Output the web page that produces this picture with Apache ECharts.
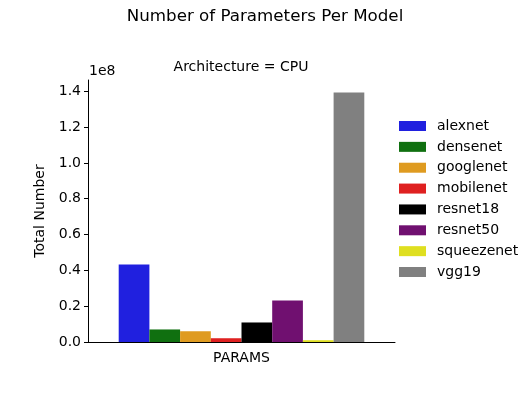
<!doctype html>
<html>
<head>
<meta charset="utf-8">
<script src="https://cdn.jsdelivr.net/npm/echarts@6/dist/echarts.min.js"></script>
<style>
  html, body { margin: 0; padding: 0; background: #fff; }
  #main { width: 530px; height: 400px; }
</style>
</head>
<body>
<div id="main"></div>
<script>
    // data (parameter counts)
    var categories = ['PARAMS'];
    var models = ['alexnet', 'densenet', 'googlenet', 'mobilenet', 'resnet18', 'resnet50', 'squeezenet', 'vgg19'];
    var paramCounts = [43.2e6, 7.0e6, 6.0e6, 2.1e6, 10.9e6, 23.2e6, 1.0e6, 139.3e6];
    var colors = ['#2020df', '#107010', '#df9b20', '#df2020', '#000000', '#701070', '#dfdf20', '#808080'];
    var yTicks = [0, 0.2e8, 0.4e8, 0.6e8, 0.8e8, 1.0e8, 1.2e8, 1.4e8];
    var yMax = 1.4627e8;

    var font = 'DejaVu Sans';
    var myChart = echarts.init(document.getElementById('main'));

    var series = [];
    for (var i = 0; i < models.length; i++) {
        series.push({
            name: models[i],
            type: 'bar',
            data: [paramCounts[i]],
            barGap: '0%',
            barCategoryGap: '20%',
            itemStyle: { color: colors[i] }
        });
    }

    myChart.setOption({
        animation: false,
        color: colors,
        textStyle: { fontFamily: font },
        legend: {
            orient: 'vertical',
            left: 399, top: 119,
            padding: 0,
            itemWidth: 27, itemHeight: 10,
            itemGap: 6.86,
            icon: 'rect',
            data: models,
            textStyle: { fontFamily: font, fontSize: 14, lineHeight: 14, color: '#000', padding: [0, 0, 0, 6] }
        },
        // titles and the 1e8 offset text
        graphic: [{
            type: 'text',
            x: 265, y: 8,
            style: { text: 'Number of Parameters Per Model', font: '16.7px "DejaVu Sans"', fill: '#000', textAlign: 'center' }
        }, {
            type: 'text',
            x: 241, y: 60,
            style: { text: 'Architecture = CPU', font: '14px "DejaVu Sans"', fill: '#000', textAlign: 'center' }
        }, {
            type: 'text',
            x: 89, y: 64,
            style: { text: '1e8', font: '14px "DejaVu Sans"', fill: '#000' }
        }],
        grid: { left: 88, right: 135, top: 80, bottom: 58, containLabel: false },
        xAxis: {
            type: 'category',
            data: categories,
            axisLine: { lineStyle: { color: '#000', width: 1 } },
            axisTick: { alignWithLabel: true, length: 4, lineStyle: { color: '#000' } },
            axisLabel: { color: '#000', fontSize: 14, fontFamily: font, margin: 9 }
        },
        yAxis: {
            type: 'value',
            min: 0, max: yMax,
            name: 'Total Number',
            nameLocation: 'middle',
            nameGap: 31,
            nameTextStyle: { fontFamily: font, fontSize: 14, color: '#000' },
            splitLine: { show: false },
            axisLine: { show: true, lineStyle: { color: '#000', width: 1 } },
            axisTick: { show: true, length: 4, customValues: yTicks, lineStyle: { color: '#000' } },
            axisLabel: {
                color: '#000', fontSize: 14, fontFamily: font, margin: 7,
                customValues: yTicks,
                formatter: function (v) { return (v / 1e8).toFixed(1); }
            }
        },
        series: series
    });
</script>
</body>
</html>
